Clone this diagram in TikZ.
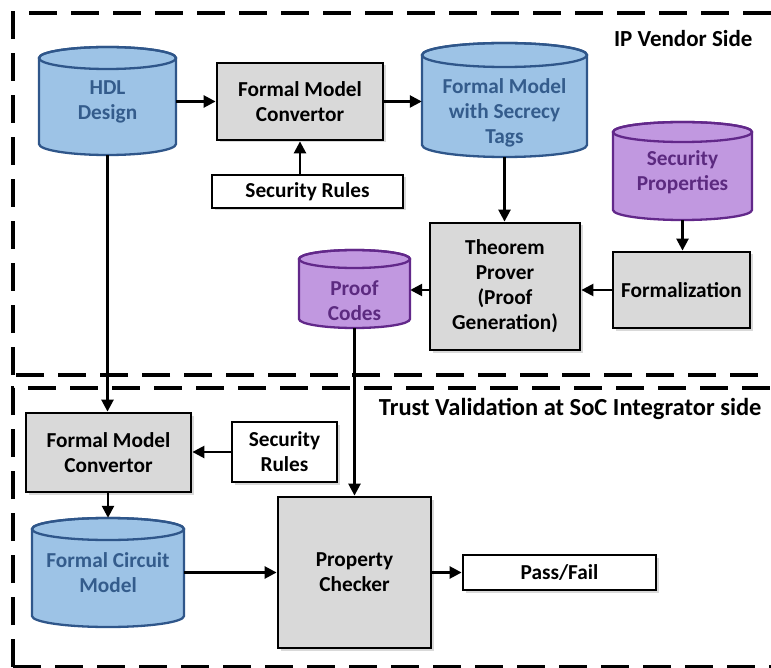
\documentclass[tikz,border=0pt]{standalone}
\usepackage{fontspec}
\setmainfont{Carlito}
\usetikzlibrary{arrows.meta,shadows}

\definecolor{bluefill}{RGB}{157,195,230}
\definecolor{blueline}{RGB}{47,86,138}
\definecolor{bluetext}{RGB}{52,92,140}
\definecolor{purplefill}{RGB}{193,152,224}
\definecolor{purpleline}{RGB}{98,40,138}
\definecolor{purpletext}{RGB}{92,42,128}
\definecolor{boxgray}{RGB}{217,217,217}

\tikzset{
  lbl/.style={font=\bfseries\fontsize{21.3}{25}\selectfont, align=center},
  zonelbl/.style={font=\bfseries\fontsize{23}{27}\selectfont},
  procbox/.style={lbl, draw=black, line width=2.8pt, fill=boxgray, inner sep=0pt,
    drop shadow={opacity=0.3, shadow xshift=2.5pt, shadow yshift=-2.5pt}},
  plainbox/.style={procbox, fill=white},
  arr/.style={line width=2.5pt, -{Triangle[length=12pt,width=12pt]}},
  zone/.style={line width=3.2pt, dash pattern=on 28pt off 14pt},
}

% Database cylinder: name, centre x, centre y, width, height, end radius,
% colour family, text offset, text
\newcommand\dbcyl[9]{%
  \pgfmathsetmacro\cxl{#2-#4/2}\pgfmathsetmacro\cxr{#2+#4/2}%
  \pgfmathsetmacro\cyt{#3-#5/2+#6}\pgfmathsetmacro\cyb{#3+#5/2-#6}%
  \path[draw=#7line, fill=#7fill, line width=2.3pt]
    (\cxl,\cyt) -- (\cxl,\cyb)
    arc[start angle=180, end angle=360, x radius=#4pt/2, y radius=#6pt]
    -- (\cxr,\cyt)
    arc[start angle=0, end angle=180, x radius=#4pt/2, y radius=#6pt] -- cycle;
  \draw[draw=#7line, line width=2.3pt] (#2,\cyt)
    ellipse[x radius=#4pt/2, y radius=#6pt];
  \node[minimum width=#4pt, minimum height=#5pt, inner sep=0pt] (#1) at (#2,#3) {};
  \node[lbl, text=#7text] at (#2,#3+#8) {#9};
}

\begin{document}
\begin{tikzpicture}[x=1pt, y=-1pt]
  \useasboundingbox (0,0) rectangle (771,668);
  \clip (0,0) rectangle (771,668);

  % Dashed zones
  \draw[zone] (13,375) -- (13,13) -- (800,13);
  \draw[zone] (800,375) -- (13,375);
  \draw[zone] (13,667) -- (13,388) -- (800,388);
  \draw[zone] (13,667) -- (800,667);

  \node[zonelbl, anchor=east] (vendor) at (756,39) {IP Vendor Side};
  \node[zonelbl, font=\bfseries\fontsize{24.5}{28}\selectfont, anchor=east] (integrator) at (765,409) {Trust Validation at SoC Integrator side};

  % IP vendor side
  \dbcyl{hdl}{107.5}{101}{137}{108}{11}{blue}{1}{HDL\\Design}
  \node[procbox, minimum width=166pt, minimum height=77pt] (fmc1) at (300,101.5) {Formal Model\\Convertor};
  \node[plainbox, minimum width=191pt, minimum height=33pt] (sr1) at (307.5,191.5) {Security Rules};
  \dbcyl{fmt}{504.5}{100}{165}{114}{12}{blue}{13}{Formal Model\\with Secrecy\\Tags}
  \dbcyl{sprop}{682.5}{171}{139}{98}{10}{purple}{1}{Security\\Properties}
  \node[procbox, minimum width=150pt, minimum height=127pt] (tp) at (505,286.5) {Theorem\\Prover\\(Proof\\Generation)};
  \node[procbox, minimum width=137pt, minimum height=76pt] (form) at (681.5,290) {Formalization};
  \dbcyl{pc}{354.5}{289}{111}{78}{9}{purple}{12}{Proof\\Codes}

  % SoC integrator side
  \node[procbox, minimum width=165pt, minimum height=79pt] (fmc2) at (108.5,452.5) {Formal Model\\Convertor};
  \node[plainbox, minimum width=105pt, minimum height=60pt] (sr2) at (284.5,452) {Security\\Rules};
  \dbcyl{fcm}{108}{572.5}{152}{109}{11}{blue}{0}{Formal Circuit\\Model}
  \node[procbox, minimum width=153pt, minimum height=151pt] (pchk) at (354.5,572.5) {Property\\Checker};
  \node[plainbox, minimum width=193pt, minimum height=35pt] (pf) at (559.5,572.5) {Pass/Fail};

  % Connectors
  \draw[arr] (hdl.east |- fmc1) -- (fmc1.west);
  \draw[arr] (sr1.north -| fmc1) -- (fmc1.south);
  \draw[arr] (fmc1.east) -- (fmt.west |- fmc1);
  \draw[arr] (fmt.south) -- (tp.north -| fmt.south);
  \draw[arr] (sprop.south) -- (form.north -| sprop.south);
  \draw[arr] (form.west) -- (tp.east |- form);
  \draw[arr] (tp.west |- form) -- (pc.east |- form);
  \draw[arr] (hdl.south) -- (fmc2.north -| hdl.south);
  \draw[arr] (sr2.west) -- (fmc2.east |- sr2);
  \draw[arr] (fmc2.south -| fcm.north) -- (fcm.north);
  \draw[arr] (pc.south) -- (pchk.north -| pc.south);
  \draw[arr] (fcm.east) -- (pchk.west |- fcm.east);
  \draw[arr] (pchk.east) -- (pf.west);
\end{tikzpicture}
\end{document}
